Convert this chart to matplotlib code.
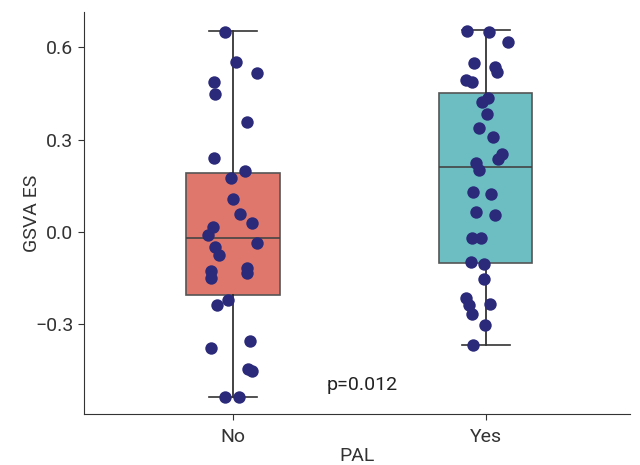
import matplotlib.pyplot as plt

plt.rcParams['font.family'] = ['Roboto', 'DejaVu Sans']

groups = ['No', 'Yes']
box_colors = ['#e0776c', '#6cbec3']
point_color = '#2b2a7a'

# box statistics
q1 = [-0.205, -0.100]
med = [-0.020, 0.211]
q3 = [0.192, 0.452]
whislo = [-0.536, -0.367]
whishi = [0.653, 0.656]

# GSVA ES values for each patient
es_no = [0.651, 0.553, 0.518, 0.487, 0.449, 0.357, 0.240, 0.197, 0.176, 0.107,
         0.060, 0.028, 0.015, -0.011, -0.035, -0.049, -0.075, -0.116, -0.128,
         -0.134, -0.150, -0.220, -0.236, -0.355, -0.376, -0.446, -0.452,
         -0.535, -0.536]
jitter_no = [-0.032, 0.011, 0.094, -0.074, -0.071, 0.054, -0.074, 0.047, -0.007,
             -0.001, 0.028, 0.074, -0.078, -0.099, 0.096, -0.072, -0.054, 0.057,
             -0.088, 0.054, -0.088, -0.021, -0.063, 0.068, -0.086, 0.058, 0.075,
             -0.030, 0.023]

es_yes = [0.654, 0.650, 0.617, 0.550, 0.537, 0.519, 0.494, 0.487, 0.435, 0.423,
          0.383, 0.339, 0.308, 0.254, 0.236, 0.223, 0.201, 0.131, 0.123, 0.064,
          0.054, -0.020, -0.019, -0.098, -0.105, -0.154, -0.215, -0.237, -0.233,
          -0.267, -0.303, -0.367]
jitter_yes = [-0.074, 0.013, 0.090, -0.046, 0.036, 0.046, -0.079, -0.055, 0.009,
              -0.013, 0.005, -0.026, 0.028, 0.063, 0.050, -0.040, -0.028, -0.049,
              0.020, -0.038, 0.037, -0.053, -0.017, -0.058, -0.008, -0.008,
              -0.079, -0.066, 0.017, -0.053, -0.001, -0.049]

p_text = 'p=0.012'

fig, ax = plt.subplots(figsize=(6.4, 4.65), dpi=100)

stats = []
for i in range(2):
    stats.append({'med': med[i], 'q1': q1[i], 'q3': q3[i],
                  'whislo': whislo[i], 'whishi': whishi[i], 'fliers': []})

bp = ax.bxp(stats, positions=[0, 1], widths=0.37, patch_artist=True,
            showfliers=False,
            boxprops=dict(edgecolor='#555555', linewidth=1.2),
            medianprops=dict(color='#444444', linewidth=1.2),
            whiskerprops=dict(color='#222222', linewidth=1.2),
            capprops=dict(color='#333333', linewidth=1.2),
            capwidths=0.19)
for patch, c in zip(bp['boxes'], box_colors):
    patch.set_facecolor(c)

ax.scatter(jitter_no, es_no, s=80, color=point_color, zorder=3, linewidths=0)
ax.scatter([1 + j for j in jitter_yes], es_yes, s=80, color=point_color,
           zorder=3, linewidths=0)

ax.text(0.51, -0.497, p_text, ha='center', va='center', fontsize=14,
        color='#222222')

ax.set_xlim(-0.59, 1.57)
ax.set_ylim(-0.591, 0.715)
ax.set_xticks([0, 1])
ax.set_xticklabels(groups)
ax.set_yticks([-0.3, 0.0, 0.3, 0.6])
ax.set_yticklabels(['\u22120.3', '0.0', '0.3', '0.6'])
ax.tick_params(labelsize=14, colors='#333333', length=4)
ax.tick_params(axis='x', pad=6)
ax.set_xlabel('PAL', fontsize=14, color='#333333', labelpad=1)
ax.set_ylabel('GSVA ES', fontsize=14, color='#333333', labelpad=-4)
for side in ['top', 'right']:
    ax.spines[side].set_visible(False)
for side in ['left', 'bottom']:
    ax.spines[side].set_color('#333333')

fig.subplots_adjust(left=0.131, right=0.984, top=0.974, bottom=0.110)
fig.savefig('out.png')
